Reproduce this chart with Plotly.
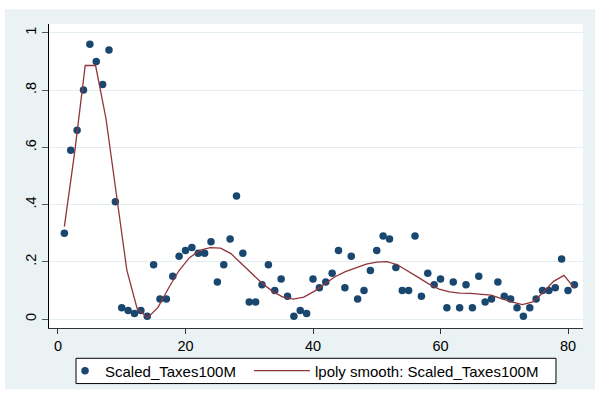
import plotly.graph_objects as go

# Observations
obs_x = list(range(1, 82))
obs_y = [0.30, 0.59, 0.66, 0.80, 0.96, 0.90, 0.82, 0.94, 0.41, 0.04,
         0.03, 0.02, 0.03, 0.01, 0.19, 0.07, 0.07, 0.15, 0.22, 0.24,
         0.25, 0.23, 0.23, 0.27, 0.13, 0.19, 0.28, 0.43, 0.23, 0.06,
         0.06, 0.12, 0.19, 0.10, 0.14, 0.08, 0.01, 0.03, 0.02, 0.14,
         0.11, 0.13, 0.16, 0.24, 0.11, 0.22, 0.07, 0.10, 0.17, 0.24,
         0.29, 0.28, 0.18, 0.10, 0.10, 0.29, 0.08, 0.16, 0.12, 0.14,
         0.04, 0.13, 0.04, 0.12, 0.04, 0.15, 0.06, 0.07, 0.13, 0.08,
         0.07, 0.04, 0.01, 0.04, 0.07, 0.10, 0.10, 0.11, 0.21, 0.10,
         0.12]

# lpoly smooth evaluation grid and values
smooth_x = [1.00, 2.63, 4.27, 5.90, 7.53, 9.16, 10.80, 12.43, 14.06, 15.69,
            17.33, 18.96, 20.59, 22.22, 23.86, 25.49, 27.12, 28.76, 30.39, 32.02,
            33.65, 35.29, 36.92, 38.55, 40.18, 41.82, 43.45, 45.08, 46.71, 48.35,
            49.98, 51.61, 53.24, 54.88, 56.51, 58.14, 59.78, 61.41, 63.04, 64.67,
            66.31, 67.94, 69.57, 71.20, 72.84, 74.47, 76.10, 77.73, 79.37, 81.00]
smooth_y = [0.323, 0.585, 0.886, 0.886, 0.700, 0.440, 0.171, 0.036, 0.005, 0.041,
            0.108, 0.169, 0.214, 0.240, 0.250, 0.248, 0.229, 0.194, 0.158, 0.125,
            0.097, 0.077, 0.070, 0.077, 0.097, 0.123, 0.148, 0.166, 0.180, 0.192,
            0.199, 0.201, 0.190, 0.169, 0.146, 0.123, 0.105, 0.095, 0.091, 0.090,
            0.088, 0.084, 0.072, 0.060, 0.051, 0.060, 0.093, 0.132, 0.153, 0.108]

x_ticks = [0, 20, 40, 60, 80]
y_ticks = [0, 0.2, 0.4, 0.6, 0.8, 1.0]
y_ticktext = ["0", ".2", ".4", ".6", ".8", "1"]

FONT = "Liberation Sans, Arial, Helvetica, sans-serif"
BG = "#eaf2f3"

fig = go.Figure()
fig.add_trace(go.Scatter(
    x=obs_x, y=obs_y, mode="markers", name="Scaled_Taxes100M",
    marker=dict(color="#1a476f", size=7.5, line=dict(width=0)),
    legend="legend",
))
fig.add_trace(go.Scatter(
    x=smooth_x, y=smooth_y, mode="lines", name="lpoly smooth: Scaled_Taxes100M",
    line=dict(color="#90353b", width=1.3),
    legend="legend2",
))

leg_common = dict(
    orientation="h", yanchor="middle", xanchor="left", y=-0.1412,
    bgcolor="rgba(0,0,0,0)", borderwidth=0,
    font=dict(family=FONT, size=15, color="black"),
)

white = dict(type="rect", xref="paper", yref="paper", fillcolor="white",
             line=dict(width=0), layer="above")

fig.update_layout(
    width=595, height=399, autosize=False,
    margin=dict(l=49, r=12, t=24, b=67, pad=0),
    paper_bgcolor=BG, plot_bgcolor="white",
    font=dict(family=FONT, size=14, color="black"),
    showlegend=True,
    legend=dict(x=0.030, **leg_common),
    legend2=dict(x=0.3745, itemwidth=56, **leg_common),
    shapes=[
        # outer white margins around the graph region
        dict(x0=-0.2, x1=1.2, y0=1.0487, y1=1.2, **white),
        dict(x0=-0.2, x1=-0.0824, y0=-0.3, y1=1.2, **white),
        dict(x0=-0.2, x1=1.2, y0=-0.3, y1=-0.2013, **white),
        # legend frame
        dict(type="rect", xref="paper", yref="paper",
             x0=0.0506, x1=0.9494, y0=-0.1828, y1=-0.0997,
             fillcolor="white", line=dict(color="black", width=1), layer="above"),
    ],
)
fig.update_xaxes(
    range=[-1.41, 82.35], tickvals=x_ticks, ticktext=[str(t) for t in x_ticks],
    showgrid=False, zeroline=False, showline=True, linecolor="#333333", linewidth=1,
    ticks="outside", ticklen=5, tickcolor="#333333", tickwidth=1,
    tickfont=dict(family=FONT, size=14.5, color="black"),
)
fig.update_yaxes(
    range=[-0.031, 1.031], tickvals=y_ticks, ticktext=y_ticktext, tickangle=-90,
    showgrid=True, gridcolor="#e4edef", gridwidth=1.2, zeroline=False,
    showline=True, linecolor="black", linewidth=1,
    ticks="outside", ticklen=6, tickcolor="#555555", tickwidth=1,
    tickfont=dict(family=FONT, size=14.5, color="black"),
)

fig.write_html("out.html", config={"displayModeBar": False})
